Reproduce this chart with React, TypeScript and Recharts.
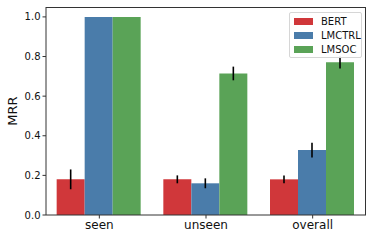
import React from 'react'
import { BarChart, Bar, XAxis, YAxis, ErrorBar } from 'recharts'

const categories = ['seen', 'unseen', 'overall']
const bertValues = [0.18, 0.18, 0.18]
const bertLow = [0.13, 0.16, 0.16]
const bertHigh = [0.23, 0.2, 0.2]
const lmctrlValues = [1.0, 0.16, 0.328]
const lmctrlLow = [1.0, 0.135, 0.29]
const lmctrlHigh = [1.0, 0.185, 0.365]
const lmsocValues = [1.0, 0.714, 0.771]
const lmsocLow = [1.0, 0.68, 0.74]
const lmsocHigh = [1.0, 0.749, 0.8]
const yTicks = [0, 0.2, 0.4, 0.6, 0.8, 1.0]

const COLORS = { BERT: '#d0373a', LMCTRL: '#4a7caa', LMSOC: '#5aa357' }
const FONT = 'DejaVu Sans, sans-serif'

const data = categories.map((name, i) => ({
  name,
  BERT: bertValues[i],
  bertErr: [bertValues[i] - bertLow[i], bertHigh[i] - bertValues[i]],
  LMCTRL: lmctrlValues[i],
  lmctrlErr: [lmctrlValues[i] - lmctrlLow[i], lmctrlHigh[i] - lmctrlValues[i]],
  LMSOC: lmsocValues[i],
  lmsocErr: [lmsocValues[i] - lmsocLow[i], lmsocHigh[i] - lmsocValues[i]],
}))

const LegendBox = () => (
  <div
    style={{
      position: 'absolute',
      left: 289,
      top: 12,
      width: 71,
      height: 43,
      border: '1px solid #d6d6d6',
      borderRadius: 2,
      background: 'rgba(255,255,255,0.85)',
      fontFamily: FONT,
      fontSize: 10,
      color: '#111',
      paddingTop: 1,
    }}
  >
    {(['BERT', 'LMCTRL', 'LMSOC'] as const).map(k => (
      <div key={k} style={{ display: 'flex', alignItems: 'center', height: 14, marginLeft: 4 }}>
        <span style={{ width: 19, height: 7, background: COLORS[k], display: 'inline-block' }} />
        <span style={{ marginLeft: 8 }}>{k}</span>
      </div>
    ))}
  </div>
)

const App = () => {
  return (
    <div style={{ position: 'absolute', left: 0, top: 0, width: 374, height: 240, background: '#fff' }}>
      <BarChart
        width={374}
        height={240}
        data={data}
        margin={{ top: 7, right: 8, left: 0, bottom: 0 }}
        barCategoryGap="10%"
        barGap={0}
      >
        <XAxis
          dataKey="name"
          height={25}
          stroke="#333"
          tickSize={3.5}
          tick={{ fill: '#111', fontSize: 12, fontFamily: FONT }}
        />
        <YAxis
          domain={[0, 1.05]}
          ticks={yTicks}
          width={46}
          stroke="#333"
          tickSize={3.5}
          tickFormatter={(v: number) => v.toFixed(1)}
          tick={{ fill: '#111', fontSize: 10, fontFamily: FONT }}
          label={{ value: 'MRR', angle: -90, position: 'center', dx: -11, style: { fontSize: 13, fontFamily: FONT, fill: '#111' } }}
        />
        <Bar dataKey="BERT" fill={COLORS.BERT} isAnimationActive={false}>
          <ErrorBar dataKey="bertErr" width={0} stroke="#000" strokeWidth={1.6} />
        </Bar>
        <Bar dataKey="LMCTRL" fill={COLORS.LMCTRL} isAnimationActive={false}>
          <ErrorBar dataKey="lmctrlErr" width={0} stroke="#000" strokeWidth={1.6} />
        </Bar>
        <Bar dataKey="LMSOC" fill={COLORS.LMSOC} isAnimationActive={false}>
          <ErrorBar dataKey="lmsocErr" width={0} stroke="#000" strokeWidth={1.6} />
        </Bar>
      </BarChart>
      {/* top and right spines of the axes frame */}
      <div
        style={{
          position: 'absolute',
          left: 46,
          top: 7,
          width: 320,
          height: 208,
          borderTop: '1px solid #333',
          borderRight: '1px solid #333',
          boxSizing: 'border-box',
          pointerEvents: 'none',
        }}
      />
      <LegendBox />
    </div>
  )
}

export default App
